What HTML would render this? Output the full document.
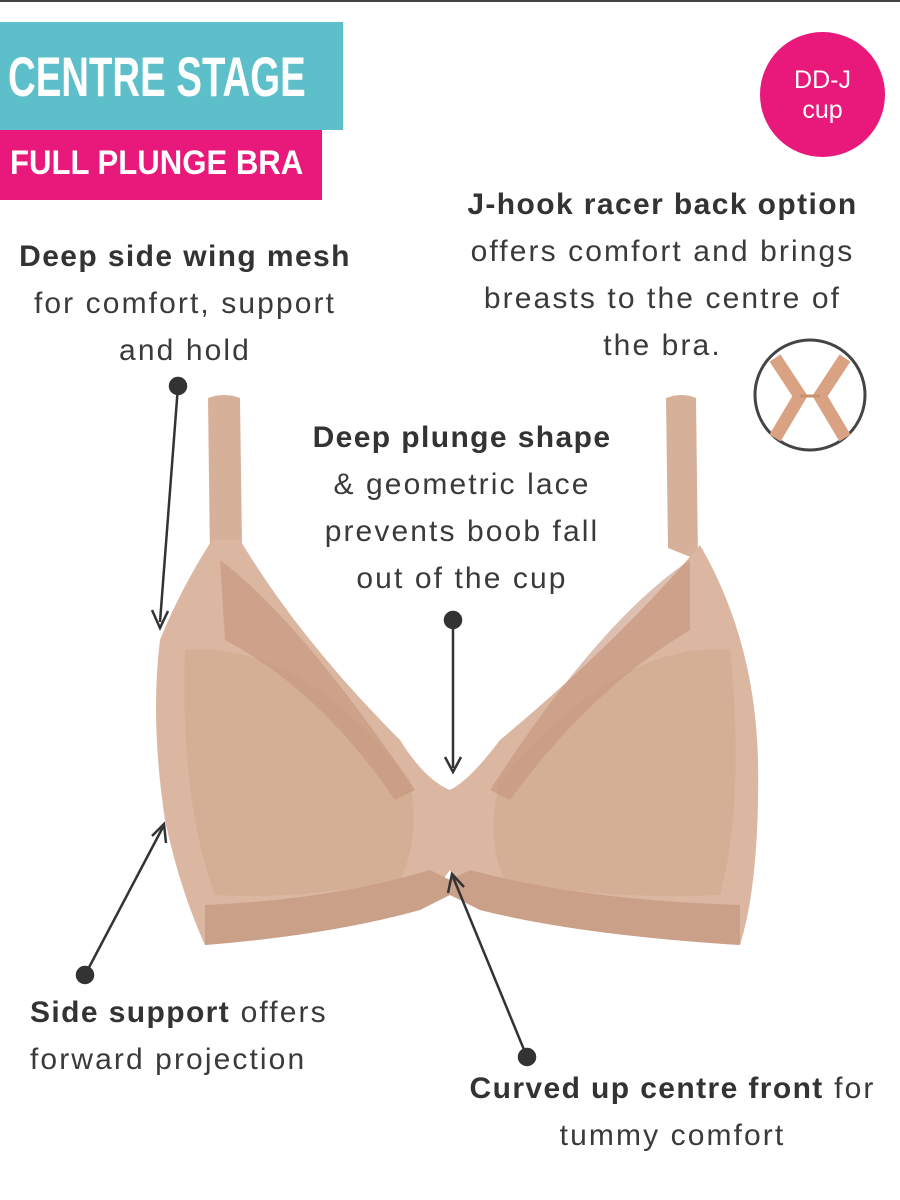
<!DOCTYPE html>
<html><head><meta charset="utf-8"><style>
body{margin:0;width:900px;height:1200px;background:#fff;position:relative;overflow:hidden;font-family:"Liberation Sans",sans-serif;color:#3a3a3a}
.t{position:absolute;font-size:30px;line-height:47px;text-align:center;white-space:nowrap;letter-spacing:2.1px}
b{color:#333;letter-spacing:1.4px}
</style></head><body>
<div style="position:absolute;left:0;top:0;width:900px;height:2px;background:#444"></div>
<div style="position:absolute;left:0;top:22px;width:343px;height:108px;background:#5dbfc9"></div>
<div style="position:absolute;left:8px;top:44px;font:bold 56px 'Liberation Sans',sans-serif;color:#fff;transform:scaleX(0.685);transform-origin:left;white-space:nowrap">CENTRE STAGE</div>
<div style="position:absolute;left:0;top:130px;width:322px;height:70px;background:#e8197a"></div>
<div style="position:absolute;left:10px;top:144px;font:bold 34px 'Liberation Sans',sans-serif;color:#fff;transform:scaleX(0.915);transform-origin:left;white-space:nowrap">FULL PLUNGE BRA</div>
<div style="position:absolute;left:760px;top:32px;width:125px;height:125px;border-radius:50%;background:#e8197a;color:#fff;font-size:25px;line-height:30px;text-align:center;box-sizing:border-box;padding-top:33px">DD-J<br>cup</div>

<div class="t" style="left:0;width:370px;top:233px"><b>Deep side wing mesh</b><br>for comfort, support<br>and hold</div>
<div class="t" style="left:440px;width:445px;top:181px"><b>J-hook racer back option</b><br>offers comfort and brings<br>breasts to the centre of<br>the bra.</div>
<div class="t" style="left:262px;width:400px;top:414px"><b>Deep plunge shape</b><br>&amp; geometric lace<br>prevents boob fall<br>out of the cup</div>
<div class="t" style="left:30px;top:989px;text-align:left"><b>Side support</b> offers<br>forward projection</div>
<div class="t" style="left:450px;width:445px;top:1065px"><b>Curved up centre front</b> for<br>tummy comfort</div>

<svg width="900" height="1200" style="position:absolute;left:0;top:0">
<path d="M208 398 Q224 392 240 398 L242 545 L210 560 Z" fill="#d7b09a"/>
<path d="M666 398 Q682 392 696 398 L698 560 L668 548 Z" fill="#d7b09a"/>
<path d="M212 540 Q180 590 160 640 Q150 720 165 820 Q180 890 205 945 Q330 935 420 910 L450 870 L480 910 Q580 935 740 945 Q760 880 758 760 Q755 640 700 545 Q620 640 500 740 Q470 780 450 790 Q425 780 400 740 Q300 640 240 540 Z" fill="#dbb6a0"/>
<path d="M185 650 Q300 640 410 780 Q420 840 400 880 Q300 900 215 895 Q180 800 185 650 Z" fill="#cfa58c" opacity="0.5"/>
<path d="M730 650 Q620 640 500 780 Q485 840 505 880 Q600 900 720 895 Q745 800 730 650 Z" fill="#cfa58c" opacity="0.5"/>
<path d="M220 560 Q300 620 415 790 L395 800 Q320 690 225 640 Z" fill="#c4957b" opacity="0.6"/>
<path d="M690 560 Q600 620 490 790 L510 800 Q590 690 690 630 Z" fill="#c4957b" opacity="0.6"/>
<path d="M205 905 Q330 900 430 870 L450 880 L470 870 Q580 900 740 905 L740 945 Q580 935 480 910 L450 895 L420 910 Q330 935 205 945 Z" fill="#cba088"/>
<circle cx="810" cy="395" r="55" fill="#fff" stroke="#444" stroke-width="3"/>
<path d="M775 358 L800 396 L775 438" stroke="#d9a283" stroke-width="13" fill="none"/>
<path d="M845 358 L820 396 L845 438" stroke="#d9a283" stroke-width="13" fill="none"/>
<line x1="800" y1="396" x2="820" y2="396" stroke="#c8906f" stroke-width="3"/>
<g stroke="#333" stroke-width="2.5" fill="#333">
<line x1="178" y1="386" x2="160" y2="622"/><circle cx="178" cy="386" r="8"/>
<path d="M152 610 L160 628 L168 611" fill="none"/>
<line x1="453" y1="620" x2="453" y2="768"/><circle cx="453" cy="620" r="8"/>
<path d="M445 757 L453 772 L461 757" fill="none"/>
<line x1="85" y1="975" x2="163" y2="827"/><circle cx="85" cy="975" r="8"/>
<path d="M152 836 L164 824 L166 843" fill="none"/>
<line x1="527" y1="1057" x2="453" y2="877"/><circle cx="527" cy="1057" r="8"/>
<path d="M448 893 L452 874 L464 887" fill="none"/>
</g>
</svg>
</body></html>
